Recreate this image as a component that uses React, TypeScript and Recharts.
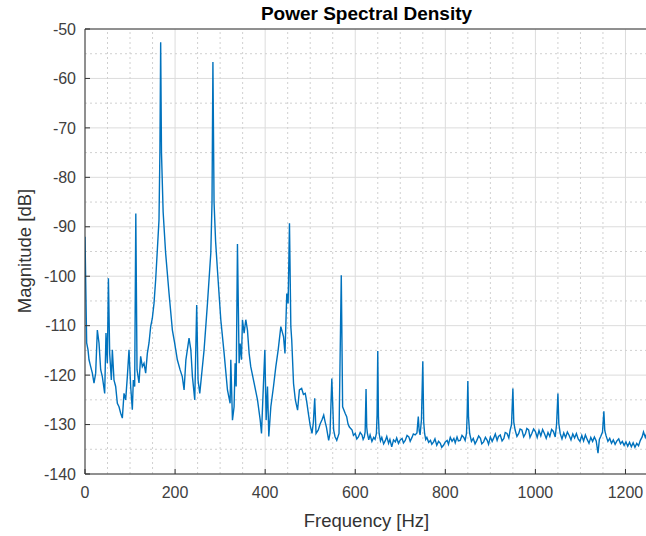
import React from 'react';
import { LineChart, Line, XAxis, YAxis, CartesianGrid, ReferenceLine } from 'recharts';

// frequency bins [Hz] and PSD magnitude [dB]
const freqHz = [
  0, 3.7, 6.7, 8.9, 12.6, 16.3, 20, 23.7, 27.4, 31.1, 34.8, 38.5, 43.7, 46.6, 49.6, 52, 54.8, 58.5, 60.7, 64.4,
  68.1, 71.8, 75.5, 79.2, 82.9, 86.6, 90.3, 94, 97.7, 101.4, 105.1, 107.3, 110.3, 112.8, 115.5, 119.9, 123.6, 127.3, 131, 134.7,
  138.4, 142.1, 145.8, 149.5, 153.2, 156.9, 160.6, 164.3, 166.3, 168, 169.8, 173.5, 179, 186.5, 194, 199, 205, 211, 216, 220,
  224, 231, 235, 238.5, 243.7, 248, 251, 254.8, 258.5, 264.4, 271.9, 279.3, 282, 284, 286.5, 290, 294, 301.5, 308.9, 316.3,
  322.2, 323.7, 327.4, 331, 333.3, 335.6, 338.5, 342.2, 344.4, 347.4, 349.6, 353.3, 357, 360.7, 364.4, 368, 375.5, 383, 389, 391.9,
  394.8, 399.3, 402.2, 405.2, 408.1, 412.6, 418.5, 423.7, 428.9, 434.8, 440.7, 444, 448, 451, 454, 457, 459, 463, 467, 472,
  476, 481, 485, 489, 492, 496, 500, 504, 507, 510, 513, 518, 522, 526, 530, 533, 536, 541, 544, 548,
  552, 555, 559, 564, 569, 572, 578, 581, 584, 587, 593, 596,
  600, 603.5, 607, 611, 615, 617.5, 620, 622, 624, 625.5, 627, 630, 633, 637, 641, 644, 647, 648.5, 650, 651.5,
  653, 656, 659, 663, 667, 670, 674, 677, 681, 685, 689, 692, 696, 700, 704, 707, 711, 715, 719, 722,
  726, 729, 733, 737, 740, 742, 744, 747, 750, 752, 754, 756.5, 759, 763, 767, 770, 774, 777, 781, 785,
  789, 792, 796, 800, 804, 807, 811, 815, 819, 822, 826, 829, 833, 837, 841, 844, 847, 848.5, 850, 851.5,
  854, 858, 862, 866, 870, 874, 878, 881, 885, 889, 893, 896, 900, 904, 907, 911, 915, 918, 922, 926,
  930, 933, 937, 941, 944, 947, 950, 952, 955, 959, 963, 966, 970, 974, 978, 981, 985, 988, 992, 996,
  1000, 1004, 1008, 1012, 1016, 1020, 1024, 1028, 1032, 1036, 1040, 1044, 1047, 1050, 1052, 1055, 1059, 1063, 1067, 1071,
  1075, 1079, 1083, 1087, 1091, 1095, 1099, 1103, 1107, 1111, 1115, 1119, 1123, 1127, 1131, 1135, 1139, 1142, 1145, 1149,
  1152, 1154, 1157, 1161, 1165, 1169, 1173, 1177, 1181, 1185, 1189, 1193, 1197, 1201, 1205, 1209, 1213, 1217, 1221, 1225,
  1229, 1233, 1237, 1240, 1244, 1247, 1250,
];

const psdDb = [
  -92, -113.5, -114.9, -116.9, -118.3, -119.6, -121.6, -119.6, -110.9, -113.5, -118.9, -120.3, -123.7, -111.5, -117.6, -100.4, -115.6, -121, -114.9, -121,
  -122.3, -125.7, -126.4, -127.7, -128.7, -123.7, -125, -120.3, -114.9, -122.3, -127, -121, -122.3, -87.3, -118.9, -121.6, -116.2, -118.3, -117.6, -119.6,
  -115.6, -113.5, -110.2, -108.5, -105.5, -100.7, -94.7, -88.6, -75, -52.7, -75, -87, -95.3, -103.4, -110.9, -113.5, -116.9, -118.9, -120.3, -123,
  -116.9, -112.5, -114.9, -120.3, -125, -105.8, -121, -123.7, -120.3, -114.9, -105.5, -95.3, -85, -56.7, -85, -93, -98.7, -108.8, -115.6, -123,
  -125.7, -116.9, -129.1, -126.4, -117.6, -122.3, -93.5, -117.6, -113.6, -116.9, -108.8, -111.5, -108.8, -110.9, -115.6, -118.3, -121.6, -125, -129.1, -131.8,
  -125, -114.9, -129.1, -122.3, -132.4, -126.4, -122.3, -118.3, -114.9, -110.2, -112.2, -115.6, -103.5, -105.5, -89.3, -110.2, -112.9, -121.7, -125, -127.1,
  -123, -122.7, -123.9, -123.7, -125.2, -127.8, -130.2, -131.8, -129.6, -124.7, -131.8, -131.1, -129.9, -129.1, -128.1, -129.4, -130.5, -133.2, -131.8, -120.7,
  -131.1, -132.4, -133.2, -131.8, -99.8, -126.4, -127.8, -128.4, -129.9, -130.5, -131.1, -132.2,
  -131.8, -132.9, -132.5, -131.6, -132.1, -133, -132.5, -131.5, -122.8, -130.5, -131.8, -133.1, -132.1, -133.4, -132.6, -133, -131.8, -128, -115.1, -128.5,
  -131.8, -133.3, -132.6, -133.9, -133.2, -132.4, -133.8, -133, -134.5, -133.1, -133.5, -132.7, -133.8, -133.1, -132.8, -133.7, -133.2, -132.2, -132.5, -133.4,
  -132.6, -131.9, -132.1, -131.7, -128.4, -131.3, -132.1, -129, -117.2, -129.5, -131.8, -133, -132.6, -133.6, -133.2, -134, -133.5, -132.9, -134.2, -133.4,
  -133.8, -134.6, -134.2, -133.5, -133.2, -134, -132.6, -133.4, -132.8, -133.7, -132.5, -133.3, -133.2, -132.2, -132.6, -133.2, -131.8, -128, -121.2, -128.5,
  -131.8, -133.4, -132.8, -133.9, -133.2, -132.3, -132.8, -133.9, -133.5, -132.6, -133.2, -134, -132.5, -133.4, -132.8, -131.9, -133.2, -132.4, -132.1, -133.3,
  -132.8, -131.6, -131.8, -132.7, -131.1, -130, -122.7, -129.5, -131.1, -132.4, -131.8, -130.9, -131.1, -132.5, -131.8, -130.8, -131.1, -132.6, -131.8, -130.9,
  -131.4, -132.6, -131.2, -132.3, -131, -131.8, -132.8, -131.6, -132.4, -131, -131.4, -132.5, -130, -123.7, -129.8, -131.8, -132.9, -131.7, -132.6, -131.5,
  -132.2, -133.1, -131.9, -132.7, -131.8, -132.9, -133.4, -132.2, -133.3, -132.1, -133, -133.8, -132.6, -133.4, -132.5, -133.3, -135.8, -133, -132.4, -131.5,
  -127.3, -131.2, -132.3, -133.4, -132.8, -133.8, -133.1, -134, -133.3, -132.9, -133.9, -133.4, -134.2, -133.5, -134.4, -133.6, -134.5, -133.7, -134.6, -133.8,
  -134.3, -133.2, -132.5, -131.5, -132.6, -131.8, -132.4,
];

const xTicks = [0, 200, 400, 600, 800, 1000, 1200];
const yTicks = [-140, -130, -120, -110, -100, -90, -80, -70, -60, -50];
const xMinor = [50, 100, 150, 250, 300, 350, 450, 500, 550, 650, 700, 750, 850, 900, 950, 1050, 1100, 1150, 1250];
const yMinor = [-135, -125, -115, -105, -95, -85, -75, -65, -55];

const data = freqHz.map((f, i) => ({ f, db: psdDb[i] }));

const font = '"Liberation Sans", Arial, Helvetica, sans-serif';
const tickStyle = { fill: '#404040', fontSize: 16, fontFamily: font };
const axisColor = '#333333';

export default function App() {
  return (
    <div
      style={{
        position: 'absolute',
        left: 0,
        top: 0,
        width: 646,
        height: 536,
        overflow: 'hidden',
        background: '#ffffff',
        fontFamily: font,
      }}
    >
      <LineChart width={648} height={536} data={data} margin={{ top: 29, right: 0, bottom: 0, left: 0 }}>
        <CartesianGrid stroke="#dcdcdc" strokeWidth={1} />
        {xMinor.map((v) => (
          <ReferenceLine key={'xm' + v} x={v} stroke="#d0d0d0" strokeDasharray="2 3" />
        ))}
        {yMinor.map((v) => (
          <ReferenceLine key={'ym' + v} y={v} stroke="#d0d0d0" strokeDasharray="2 3" />
        ))}
        <ReferenceLine y={-50} stroke={axisColor} />
        <XAxis
          dataKey="f"
          type="number"
          domain={[0, 1250]}
          ticks={xTicks}
          allowDataOverflow
          height={62}
          tickSize={-5}
          tickMargin={18}
          tick={tickStyle}
          stroke={axisColor}
          tickLine={{ stroke: axisColor }}
        />
        <XAxis
          xAxisId="top"
          orientation="top"
          type="number"
          domain={[0, 1250]}
          ticks={xTicks}
          allowDataOverflow
          height={0}
          tickSize={-5}
          tick={() => <g />}
          stroke={axisColor}
        />
        <YAxis
          type="number"
          domain={[-140, -50]}
          ticks={yTicks}
          allowDataOverflow
          width={85}
          tickSize={-5}
          tickMargin={14}
          tick={tickStyle}
          stroke={axisColor}
          tickLine={{ stroke: axisColor }}
        />
        <YAxis
          yAxisId="right"
          orientation="right"
          type="number"
          domain={[-140, -50]}
          ticks={yTicks}
          allowDataOverflow
          width={0}
          tickSize={-5}
          tick={() => <g />}
          stroke={axisColor}
        />
        <Line
          type="linear"
          dataKey="db"
          stroke="#0072BD"
          strokeWidth={1.4}
          dot={false}
          isAnimationActive={false}
        />
      </LineChart>
      <div
        style={{
          position: 'absolute',
          left: 85,
          width: 563,
          top: 3,
          textAlign: 'center',
          fontWeight: 'bold',
          fontSize: 19,
          lineHeight: '22px',
          color: '#000',
        }}
      >
        Power Spectral Density
      </div>
      <div
        style={{
          position: 'absolute',
          left: 85,
          width: 563,
          top: 510,
          textAlign: 'center',
          fontSize: 18.5,
          lineHeight: '22px',
          color: '#333',
        }}
      >
        Frequency [Hz]
      </div>
      <div
        style={{
          position: 'absolute',
          left: 25 - 150,
          top: 251 - 11,
          width: 300,
          height: 22,
          textAlign: 'center',
          fontSize: 18.5,
          lineHeight: '22px',
          color: '#333',
          transform: 'rotate(-90deg)',
        }}
      >
        Magnitude [dB]
      </div>
    </div>
  );
}
